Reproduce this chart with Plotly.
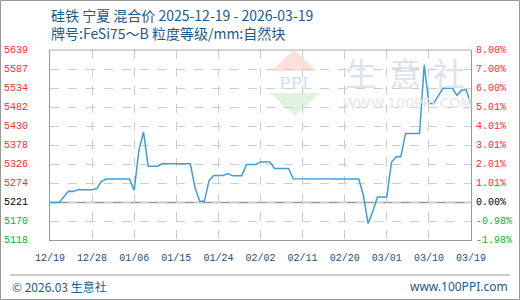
import pandas as pd
import plotly.graph_objects as go

# ---- data ----
start_date = "2025-12-19"
end_date = "2026-03-19"
dates = pd.date_range(start_date, end_date, freq="D")
prices = [
    5221, 5221, 5221, 5237, 5252, 5251, 5256, 5256, 5256, 5256,
    5259, 5279, 5285, 5285, 5285, 5285, 5285, 5285, 5254, 5364,
    5414, 5320, 5320, 5320, 5327, 5327, 5327, 5327, 5327, 5327,
    5327, 5262, 5224, 5224, 5281, 5295, 5295, 5295, 5300, 5294,
    5294, 5294, 5325, 5325, 5325, 5332, 5332, 5332, 5314, 5314,
    5314, 5314, 5286, 5286, 5286, 5286, 5286, 5286, 5286, 5286,
    5286, 5286, 5286, 5286, 5286, 5286, 5285, 5240, 5163, 5196,
    5236, 5236, 5236, 5331, 5346, 5346, 5410, 5410, 5410, 5410,
    5598, 5492, 5492, 5513, 5534, 5534, 5534, 5515, 5529, 5529,
    5488,
]
base_price = 5221
y_tick_vals = [5118.0, 5169.75, 5221.0, 5273.25, 5325.5, 5377.75, 5430.0, 5482.25, 5534.5, 5586.75, 5639.0]
y_tick_left = ["5118", "5170", "5221", "5274", "5326", "5378", "5430", "5482", "5534", "5587", "5639"]
y_tick_right = ["-1.98%", "-0.98%", "0.00%", "1.01%", "2.01%", "3.01%", "4.01%", "5.01%", "6.00%", "7.00%", "8.00%"]
x_tick_dates = pd.date_range(start_date, end_date, freq="9D")
x_tick_text = ["12/19", "12/28", "01/06", "01/15", "01/24", "02/02", "02/11", "02/20", "03/01", "03/10", "03/19"]
title_line1 = "硅铁 宁夏 混合价 2025-12-19 - 2026-03-19"
title_line2 = "牌号:FeSi75～B 粒度等级/mm:自然块"
footer_left = "© 2026.03 生意社"
footer_right = "www.100PPI.com"

# ---- layout geometry ----
W, H = 520, 300
L, R, T, B = 50, 471, 50, 240

def px(x):
    return (x - L) / (R - L)

def py(y):
    return (B - y) / (B - T)

def tick_color(v):
    if abs(v - base_price) < 1:
        return "#000000"
    return "#ff2a2a" if v > base_price else "#22aa22"

fig = go.Figure()
fig.add_trace(go.Scatter(
    x=dates, y=prices, mode="lines",
    line=dict(color="#3c9ddc", width=1.5),
    hoverinfo="skip", showlegend=False,
))

yr = [y_tick_vals[0], y_tick_vals[-1]]
tickfont = dict(family="Liberation Mono, DejaVu Sans Mono, monospace", size=10)

fig.update_layout(
    width=W, height=H,
    margin=dict(l=L, r=W - R, t=T, b=H - B),
    paper_bgcolor="white", plot_bgcolor="white",
    xaxis=dict(
        range=[dates[0], dates[-1]],
        tickvals=list(x_tick_dates), ticktext=x_tick_text,
        tickfont=dict(tickfont, color="#1a4f7f"),
        showgrid=True, gridcolor="#cccccc", griddash="dash", gridwidth=1,
        showline=True, linecolor="#999999", linewidth=1, mirror=False,
        ticks="", ticklen=0, zeroline=False, ticklabelstandoff=8,
    ),
    yaxis=dict(
        range=yr, tickvals=y_tick_vals, showticklabels=False,
        showgrid=True, gridcolor="#cccccc", griddash="dash", gridwidth=1,
        showline=True, linecolor="#999999", linewidth=1, mirror=True,
        ticks="", zeroline=False,
    ),
)

shapes = []
shapes.append(dict(type="line", xref="paper", yref="y", x0=0, x1=1, y0=base_price, y1=base_price,
                   line=dict(color="#999999", width=1.5), layer="below"))
shapes.append(dict(type="line", xref="paper", yref="paper", x0=0, x1=1, y0=1, y1=1,
                   line=dict(color="#aaaaaa", width=1)))
shapes.append(dict(type="rect", xref="paper", yref="paper", x0=px(0.5), x1=px(519.5), y0=py(299.5), y1=py(0.5),
                   line=dict(color="#999999", width=1)))
shapes.append(dict(type="line", xref="paper", yref="paper", x0=px(10), x1=px(510), y0=py(275), y1=py(275),
                   line=dict(color="#999999", width=1)))
shapes.append(dict(type="path", xref="paper", yref="paper", layer="below",
                   path=f"M {px(271)} {py(71)} L {px(294)} {py(50)} L {px(317)} {py(71)} Z",
                   fillcolor="#fbe0da", line=dict(width=0)))
shapes.append(dict(type="path", xref="paper", yref="paper", layer="below",
                   path=f"M {px(270)} {py(93)} L {px(320)} {py(93)} L {px(295)} {py(116)} Z",
                   fillcolor="#dff3e0", line=dict(width=0)))
fig.update_layout(shapes=shapes)

ann = []
# y-axis labels (left prices, right percentages)
for v, lt, rt in zip(y_tick_vals, y_tick_left, y_tick_right):
    c = tick_color(v)
    ann.append(dict(text=lt, xref="paper", yref="y", x=px(29), y=v, showarrow=False,
                    font=dict(tickfont, color=c), xanchor="right", yanchor="middle", borderpad=0))
    ann.append(dict(text=rt, xref="paper", yref="y", x=px(475), y=v, showarrow=False,
                    font=dict(tickfont, color=c), xanchor="left", yanchor="middle", borderpad=0))
ann.append(dict(text="PPI", xref="paper", yref="paper", x=px(294), y=py(83), showarrow=False,
                font=dict(family="DejaVu Serif, serif", size=17, color="#d4dbec"), xanchor="center", yanchor="middle"))
for ch, cx in zip("生意社", [361, 405, 449]):
    ann.append(dict(text=ch, xref="paper", yref="paper", x=px(cx), y=py(72), showarrow=False,
                    font=dict(family="Noto Sans CJK SC", size=32, color="#dde2ec"),
                    xanchor="center", yanchor="middle"))
ann.append(dict(text="WWW.100PPI.COM", xref="paper", yref="paper", x=px(407), y=py(103), showarrow=False,
                font=dict(family="DejaVu Sans, sans-serif", size=14, color="#e6e6e6"),
                xanchor="center", yanchor="middle"))
ann.append(dict(text=title_line1 + "<br>" + title_line2, xref="paper", yref="paper", x=px(50), y=py(24),
                showarrow=False, align="left", borderpad=0,
                font=dict(family="Noto Sans CJK SC", size=14, color="#1b5a8a"),
                xanchor="left", yanchor="middle"))
ann.append(dict(text=footer_left, xref="paper", yref="paper", x=px(10), y=py(286), showarrow=False,
                font=dict(family="Noto Sans CJK SC", size=12, color="#1b5a8a"),
                xanchor="left", yanchor="middle"))
ann.append(dict(text=footer_right, xref="paper", yref="paper", x=px(510), y=py(286), showarrow=False,
                font=dict(family="Noto Sans", size=12, color="#1b5a8a"),
                xanchor="right", yanchor="middle"))
fig.update_layout(annotations=ann)

fig.write_html("out.html")
